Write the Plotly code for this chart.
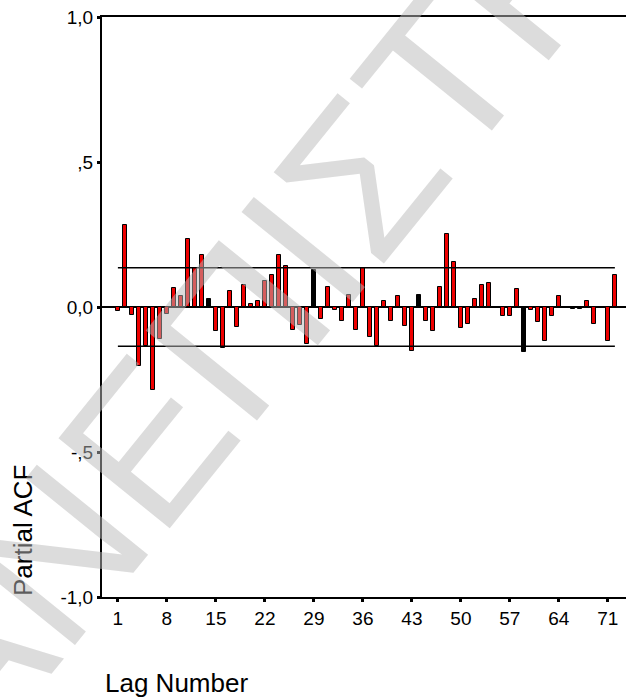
import plotly.graph_objects as go

# Partial autocorrelation function, lags 1..72
lags = list(range(1, 73))
pacf = [
    -0.015, 0.284, -0.026, -0.202, -0.135, -0.287, -0.109, -0.024, 0.064, 0.037,
    0.233, 0.135, 0.179, 0.029, -0.083, -0.141, 0.055, -0.070, 0.075, 0.011,
    0.022, 0.089, 0.109, 0.179, 0.141, -0.078, -0.063, -0.129, 0.129, -0.040,
    0.068, -0.009, -0.047, 0.043, -0.078, 0.133, -0.103, -0.135, 0.022, -0.047,
    0.037, -0.064, -0.150, 0.043, -0.047, -0.083, 0.070, 0.252, 0.156, -0.072,
    -0.057, 0.029, 0.075, 0.083, 0.000, -0.032, -0.032, 0.063, -0.156, -0.012,
    -0.051, -0.118, -0.032, 0.037, 0.000, -0.006, -0.006, 0.022, -0.057, 0.000,
    -0.118, 0.109,
]
conf_limit = 0.135  # approx. 95% confidence limit (1.96 / sqrt(n))

x_tick_vals = list(range(1, 72, 7))
x_tick_text = [str(v) for v in x_tick_vals]
y_tick_vals = [-1.0, -0.5, 0.0, 0.5, 1.0]
y_tick_text = ["-1,0", "-,5", "0,0", ",5", "1,0"]

watermark_text = "ΠΑΝΕΠΙΣΤΗΜΙΟ"

# bars that render as solid dark strokes
dark_lags = {14, 29, 44, 59, 66, 67}
bar_colors = ["#000000" if k in dark_lags else "#ee0000" for k in lags]

FONT = "Arial, Liberation Sans, sans-serif"

fig = go.Figure()

fig.add_trace(go.Bar(
    x=lags, y=pacf, width=0.55,
    marker=dict(color=bar_colors, line=dict(color="black", width=1)),
    showlegend=False,
))

for lim in (conf_limit, -conf_limit):
    fig.add_trace(go.Scatter(
        x=[lags[0], lags[-1]], y=[lim, lim], mode="lines",
        line=dict(color="black", width=1.5), showlegend=False,
        hoverinfo="skip",
    ))

fig.update_xaxes(
    range=[-1.27, 73.59],
    tickmode="array", tickvals=x_tick_vals, ticktext=x_tick_text,
    ticks="outside", ticklen=3, tickwidth=3, tickcolor="black",
    showline=True, linecolor="black", linewidth=2, mirror=True,
    showgrid=False, zeroline=False,
    tickfont=dict(family=FONT, size=19, color="black"),
)
fig.update_yaxes(
    range=[-1, 1],
    tickmode="array", tickvals=y_tick_vals, ticktext=y_tick_text,
    ticks="outside", ticklen=3, tickwidth=3, tickcolor="black",
    showline=True, linecolor="black", linewidth=2, mirror=False,
    showgrid=False, zeroline=True, zerolinecolor="black", zerolinewidth=2,
    tickfont=dict(family=FONT, size=19, color="black"),
)

plot_l, plot_r, plot_t, plot_b = 102, 626, 17, 597
pw, ph = plot_r - plot_l, plot_b - plot_t


def px_to_paper(px, py):
    return (px - plot_l) / pw, (plot_b - py) / ph


lx, ly = px_to_paper(103, 683)
fig.add_annotation(text="Lag Number", xref="paper", yref="paper", x=lx, y=ly,
                   xanchor="left", yanchor="middle", showarrow=False,
                   font=dict(family=FONT, size=26, color="black"))
ax_, ay_ = px_to_paper(23, 530)
fig.add_annotation(text="Partial ACF", xref="paper", yref="paper", x=ax_, y=ay_,
                   xanchor="center", yanchor="middle", textangle=-90,
                   showarrow=False,
                   font=dict(family=FONT, size=26, color="black"))

# diagonal watermark over the plot
wx, wy = px_to_paper(325, 222)
fig.add_annotation(text=watermark_text, xref="paper", yref="paper", x=wx, y=wy,
                   xanchor="center", yanchor="middle", textangle=-51,
                   showarrow=False,
                   font=dict(family=FONT, size=208,
                             color="rgba(185,185,185,0.5)"))

fig.update_layout(
    width=626, height=700,
    margin=dict(l=plot_l, r=0, t=plot_t, b=700 - plot_b),
    paper_bgcolor="white", plot_bgcolor="white",
    bargap=0,
)

fig.write_html("out.html")
